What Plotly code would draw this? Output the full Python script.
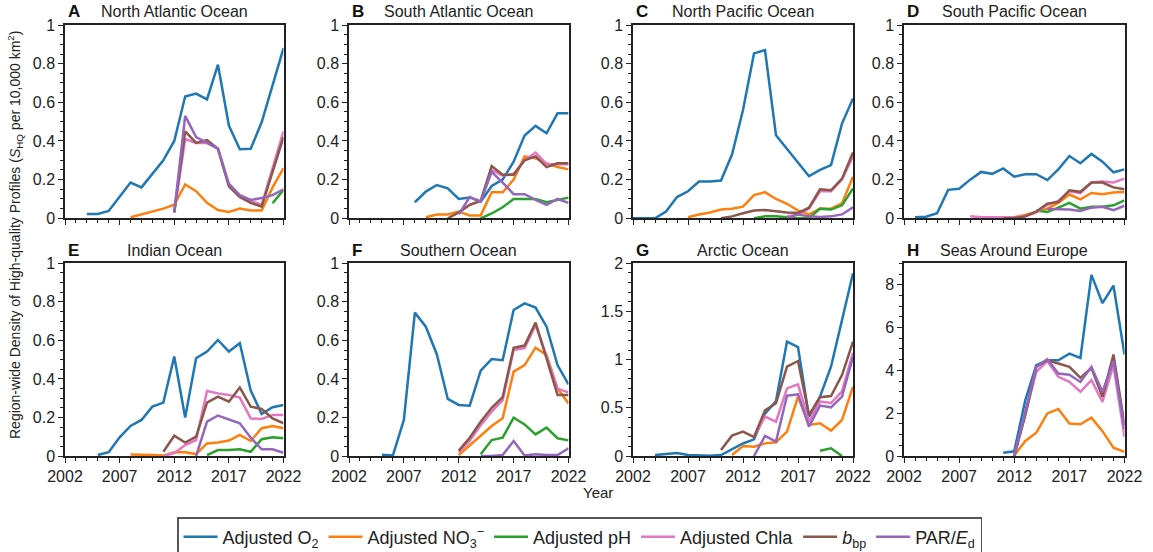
import plotly.graph_objects as go

years = list(range(2002, 2023))

# ---- A  North Atlantic Ocean ----
natl_o2   = [None, None, 0.022, 0.022, 0.038, 0.11, 0.185, 0.16, 0.23, 0.30, 0.40, 0.63, 0.645, 0.615, 0.795, 0.48, 0.357, 0.36, 0.497, 0.69, 0.88]
natl_no3  = [None]*6 + [0.005, 0.02, 0.035, 0.05, 0.07, 0.175, 0.14, 0.08, 0.043, 0.033, 0.05, 0.04, 0.04, 0.16, 0.26]
natl_ph   = [None]*19 + [0.078, 0.147]
natl_chla = [None]*10 + [0.03, 0.41, 0.39, 0.39, 0.36, 0.17, 0.11, 0.09, 0.07, 0.26, 0.45]
natl_bbp  = [None]*10 + [0.03, 0.45, 0.39, 0.405, 0.36, 0.165, 0.11, 0.08, 0.06, 0.24, 0.42]
natl_par  = [None]*10 + [0.035, 0.53, 0.42, 0.39, 0.36, 0.18, 0.12, 0.095, 0.105, 0.12, 0.15]

# ---- B  South Atlantic Ocean ----
satl_o2   = [None]*6 + [0.083, 0.138, 0.172, 0.155, 0.10, 0.108, 0.086, 0.167, 0.20, 0.293, 0.428, 0.478, 0.44, 0.543, 0.543]
satl_no3  = [None]*7 + [0.005, 0.02, 0.02, 0.035, 0.015, 0.015, 0.135, 0.135, 0.2, 0.32, 0.31, 0.285, 0.265, 0.253]
satl_ph   = [None]*12 + [0.0, 0.025, 0.057, 0.1, 0.1, 0.1, 0.083, 0.095, 0.107]
satl_chla = [None]*10 + [0.03, 0.07, 0.09, 0.25, 0.22, 0.23, 0.3, 0.34, 0.28, 0.28, 0.28]
satl_bbp  = [None]*9 + [0.0, 0.03, 0.07, 0.09, 0.27, 0.225, 0.225, 0.3, 0.32, 0.265, 0.285, 0.285]
satl_par  = [None]*10 + [0.02, 0.11, 0.087, 0.24, 0.185, 0.125, 0.125, 0.095, 0.07, 0.1, 0.08]

# ---- C  North Pacific Ocean ----
npac_o2   = [0.0, 0.0, 0.0, 0.035, 0.11, 0.14, 0.19, 0.19, 0.195, 0.33, 0.56, 0.853, 0.87, 0.43, 0.36, 0.29, 0.218, 0.25, 0.275, 0.49, 0.62]
npac_no3  = [None]*5 + [0.005, 0.02, 0.03, 0.045, 0.05, 0.06, 0.12, 0.135, 0.1, 0.075, 0.04, 0.02, 0.05, 0.05, 0.077, 0.215]
npac_ph   = [None]*11 + [0.0, 0.01, 0.01, 0.005, 0.0, 0.0, 0.05, 0.045, 0.067, 0.155]
npac_chla = [None]*14 + [0.01, 0.02, 0.05, 0.14, 0.14, 0.2, 0.32]
npac_bbp  = [None]*8 + [0.0, 0.01, 0.026, 0.04, 0.043, 0.035, 0.03, 0.028, 0.055, 0.15, 0.145, 0.205, 0.34]
npac_par  = [None]*14 + [0.0, 0.02, 0.01, 0.007, 0.01, 0.02, 0.057]

# ---- D  South Pacific Ocean ----
spac_o2   = [None, 0.005, 0.008, 0.026, 0.147, 0.153, 0.2, 0.24, 0.23, 0.258, 0.215, 0.228, 0.228, 0.198, 0.253, 0.322, 0.285, 0.333, 0.293, 0.238, 0.253]
spac_no3  = [None]*7 + [0.005, 0.005, 0.005, 0.005, 0.017, 0.035, 0.05, 0.08, 0.123, 0.098, 0.131, 0.124, 0.133, 0.136]
spac_ph   = [None]*12 + [0.04, 0.033, 0.055, 0.08, 0.05, 0.06, 0.06, 0.067, 0.093]
spac_chla = [None]*6 + [0.01, 0.005, 0.005, 0.005, 0.005, 0.01, 0.03, 0.07, 0.09, 0.14, 0.13, 0.185, 0.19, 0.185, 0.205]
spac_bbp  = [None]*9 + [0.0, 0.002, 0.01, 0.035, 0.075, 0.085, 0.145, 0.137, 0.185, 0.185, 0.16, 0.15]
spac_par  = [None]*13 + [0.048, 0.045, 0.045, 0.038, 0.055, 0.06, 0.042, 0.065]

# ---- E  Indian Ocean ----
ind_o2   = [None]*3 + [0.005, 0.02, 0.097, 0.156, 0.187, 0.256, 0.277, 0.516, 0.2, 0.507, 0.542, 0.602, 0.542, 0.585, 0.34, 0.218, 0.253, 0.265]
ind_no3  = [None]*6 + [0.008, 0.008, 0.005, 0.002, 0.02, 0.02, 0.01, 0.065, 0.07, 0.08, 0.11, 0.078, 0.144, 0.156, 0.144]
ind_ph   = [None]*13 + [0.005, 0.031, 0.031, 0.035, 0.022, 0.087, 0.097, 0.092]
ind_chla = [None]*9 + [0.0, 0.015, 0.057, 0.083, 0.337, 0.325, 0.317, 0.303, 0.195, 0.192, 0.213, 0.213]
ind_bbp  = [None]*9 + [0.022, 0.105, 0.07, 0.1, 0.277, 0.308, 0.282, 0.356, 0.256, 0.244, 0.195, 0.17]
ind_par  = [None]*12 + [0.0, 0.178, 0.21, 0.192, 0.17, 0.095, 0.035, 0.035, 0.017]

# ---- F  Southern Ocean ----
so_o2   = [None]*3 + [0.007, 0.003, 0.187, 0.744, 0.671, 0.528, 0.296, 0.265, 0.261, 0.443, 0.503, 0.497, 0.758, 0.792, 0.77, 0.671, 0.472, 0.372]
so_no3  = [None]*10 + [0.005, 0.057, 0.109, 0.156, 0.196, 0.438, 0.472, 0.562, 0.524, 0.351, 0.273]
so_ph   = [None]*12 + [0.009, 0.083, 0.095, 0.199, 0.164, 0.112, 0.147, 0.092, 0.081]
so_chla = [None]*10 + [0.02, 0.08, 0.16, 0.23, 0.29, 0.55, 0.56, 0.68, 0.52, 0.35, 0.33]
so_bbp  = [None]*10 + [0.028, 0.095, 0.178, 0.25, 0.305, 0.562, 0.573, 0.692, 0.507, 0.317, 0.317]
so_par  = [None]*12 + [0.0, 0.0, 0.005, 0.078, 0.002, 0.009, 0.005, 0.005, 0.04]

# ---- G  Arctic Ocean ----
arc_o2   = [None, None, 0.01, 0.017, 0.03, 0.01, 0.003, 0.003, 0.01, 0.073, 0.13, 0.173, 0.44, 0.57, 1.187, 1.13, 0.408, 0.616, 0.927, 1.41, 1.896]
arc_no3  = [None]*9 + [0.01, 0.104, 0.097, 0.131, 0.142, 0.253, 0.616, 0.322, 0.34, 0.263, 0.374, 0.72]
arc_ph   = [None]*17 + [0.055, 0.08, 0.0, None]
arc_chla = [None]*11 + [0.2, 0.408, 0.356, 0.702, 0.744, 0.356, 0.565, 0.55, 0.67, 1.07]
arc_bbp  = [None]*8 + [0.062, 0.211, 0.253, 0.197, 0.474, 0.547, 0.927, 0.986, 0.425, 0.61, 0.623, 0.84, 1.187]
arc_par  = [None]*11 + [0.0, 0.208, 0.149, 0.626, 0.64, 0.305, 0.523, 0.505, 0.616, 1.03]

# ---- H  Seas Around Europe ----
eur_o2   = [None]*9 + [0.155, 0.217, 2.6, 4.24, 4.47, 4.47, 4.78, 4.58, 8.46, 7.14, 7.96, 4.74]
eur_no3  = [None]*10 + [0.02, 0.7, 1.09, 1.99, 2.19, 1.52, 1.48, 1.79, 1.16, 0.39, 0.19]
eur_ph   = [None]*21
eur_chla = [None]*10 + [0.0, 1.9, 3.93, 4.43, 3.7, 3.46, 3.0, 3.54, 2.53, 4.24, 0.9]
eur_bbp  = [None]*10 + [0.0, 1.9, 4.16, 4.47, 4.32, 4.16, 3.65, 4.11, 2.76, 4.74, 1.44]
eur_par  = [None]*10 + [0.0, 2.07, 4.16, 4.52, 3.85, 3.8, 3.46, 4.16, 3.0, 4.43, 1.26]

panel_letters = ["A", "B", "C", "D", "E", "F", "G", "H"]
panel_titles = ["North Atlantic Ocean", "South Atlantic Ocean", "North Pacific Ocean", "South Pacific Ocean",
                "Indian Ocean", "Southern Ocean", "Arctic Ocean", "Seas Around Europe"]
series_names = ["Adjusted O<sub>2</sub>", "Adjusted NO<sub>3</sub><sup>\u2212</sup>", "Adjusted pH",
                "Adjusted Chla", "<i>b</i><sub>bp</sub>", "PAR/<i>E</i><sub>d</sub>"]
series_colors = ["#1f77b4", "#ff7f0e", "#2ca02c", "#e377c2", "#8c564b", "#9467bd"]

panel_series = [
    [natl_o2, natl_no3, natl_ph, natl_chla, natl_bbp, natl_par],
    [satl_o2, satl_no3, satl_ph, satl_chla, satl_bbp, satl_par],
    [npac_o2, npac_no3, npac_ph, npac_chla, npac_bbp, npac_par],
    [spac_o2, spac_no3, spac_ph, spac_chla, spac_bbp, spac_par],
    [ind_o2, ind_no3, ind_ph, ind_chla, ind_bbp, ind_par],
    [so_o2, so_no3, so_ph, so_chla, so_bbp, so_par],
    [arc_o2, arc_no3, arc_ph, arc_chla, arc_bbp, arc_par],
    [eur_o2, eur_no3, eur_ph, eur_chla, eur_bbp, eur_par],
]

# y-axis scale per panel: (max, major step, minor step)
y_scales = [(1, 0.2, 0.05)] * 6 + [(2, 0.5, 0.1), (9, 2, 0.5)]

W, H = 1153, 552
col_px = [(65, 283.5), (349, 568.5), (633, 853), (904, 1124.5)]
row_px = [(25, 218.3), (263.3, 456)]

FONT = "Liberation Sans, Arial, sans-serif"
fig = go.Figure()
annotations = []

for i in range(8):
    r, c = divmod(i, 4)
    ax = "" if i == 0 else str(i + 1)
    x0, x1 = col_px[c]
    yt, yb = row_px[r]
    for k in range(6):
        fig.add_trace(go.Scatter(
            x=years, y=panel_series[i][k], mode="lines",
            line=dict(color=series_colors[k], width=2.5),
            name=series_names[k], legendgroup=str(k), showlegend=(i == 0),
            xaxis="x" + ax, yaxis="y" + ax, connectgaps=False,
        ))
    ymax, ystep, yminor = y_scales[i]
    fig.layout["xaxis" + ax] = dict(
        domain=[x0 / W, x1 / W], anchor="y" + ax, range=[2002, 2022], automargin=False,
        tick0=2002, dtick=5, ticks="outside", ticklen=5, tickwidth=1.2, tickcolor="#222",
        minor=dict(tick0=2002, dtick=1, ticks="outside", ticklen=3, tickwidth=1, tickcolor="#222"),
        showticklabels=(r == 1), showline=True, linecolor="#222", linewidth=1.5, mirror=True,
        showgrid=False, zeroline=False, tickfont=dict(size=16, color="#222", family=FONT),
    )
    fig.layout["yaxis" + ax] = dict(
        domain=[1 - yb / H, 1 - yt / H], anchor="x" + ax, range=[0, ymax], automargin=False,
        tick0=0, dtick=ystep, ticks="outside", ticklen=5, tickwidth=1.2, tickcolor="#222",
        minor=dict(tick0=0, dtick=yminor, ticks="outside", ticklen=3, tickwidth=1, tickcolor="#222"),
        showline=True, linecolor="#222", linewidth=1.5, mirror=True,
        showgrid=False, zeroline=False, tickfont=dict(size=16, color="#222", family=FONT),
    )
    title_y = 1 - (yt - 13) / H
    annotations.append(dict(
        text="<b>" + panel_letters[i] + "</b>", xref="paper", yref="paper",
        x=(x0 + 1) / W, y=title_y, xanchor="left", yanchor="middle", showarrow=False,
        font=dict(size=17, color="#111", family=FONT),
    ))
    annotations.append(dict(
        text=panel_titles[i], xref="paper", yref="paper",
        x=(x0 + x1) / 2 / W, y=title_y, xanchor="center", yanchor="middle", showarrow=False,
        font=dict(size=16, color="#222", family=FONT),
    ))

annotations.append(dict(
    text="Region-wide Density of High-quality Profiles (<i>S</i><sub>HQ</sub> per 10,000 km<sup>2</sup>)",
    xref="paper", yref="paper", x=15 / W, y=1 - 235 / H, xanchor="center", yanchor="middle",
    textangle=-90, showarrow=False, font=dict(size=14, color="#222", family=FONT),
))
annotations.append(dict(
    text="Year", xref="paper", yref="paper", x=598 / W, y=1 - 492 / H,
    xanchor="center", yanchor="middle", showarrow=False, font=dict(size=15, color="#222", family=FONT),
))

fig.update_layout(
    width=W, height=H, margin=dict(l=0, r=0, t=0, b=0, pad=0, autoexpand=False),
    paper_bgcolor="white", plot_bgcolor="white",
    annotations=annotations,
    legend=dict(
        orientation="h", x=177 / W, y=1 - 517 / H, xanchor="left", yanchor="top",
        bordercolor="#555", borderwidth=1.5, bgcolor="white", itemwidth=34,
        font=dict(size=18, color="#222", family=FONT), traceorder="normal",
    ),
    font=dict(family=FONT),
)

fig.write_html("out.html")
